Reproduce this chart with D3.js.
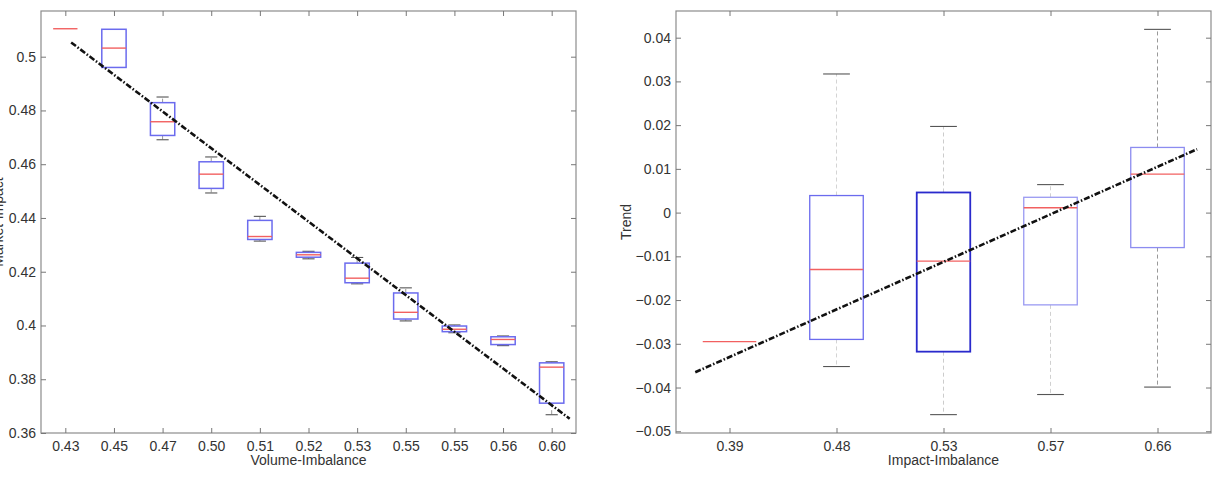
<!DOCTYPE html>
<html>
<head>
<meta charset="utf-8">
<script src="https://cdn.jsdelivr.net/npm/d3@7"></script>
<style>
  body { margin: 0; background: #fff; }
  svg { display: block; font-family: "Liberation Sans", Arial, sans-serif; }
  .tick text { fill: #333; font-size: 14px; }
</style>
</head>
<body>
<svg id="chart" width="1212" height="478"></svg>
<script>
// ---- left panel: volume imbalance ----
var volCats = ["0.43", "0.45", "0.47", "0.50", "0.51", "0.52", "0.53", "0.55", "0.55", "0.56", "0.60"];
var volLo  = [0.5104, 0.4960, 0.4691, 0.4493, 0.4314, 0.4248, 0.4155, 0.4017, 0.3973, 0.3925, 0.3668];
var volQ1  = [0.5104, 0.4960, 0.4707, 0.4510, 0.4320, 0.4254, 0.4159, 0.4024, 0.3977, 0.3929, 0.3711];
var volMed = [0.5104, 0.5032, 0.4758, 0.4563, 0.4331, 0.4263, 0.4176, 0.4049, 0.3986, 0.3948, 0.3845];
var volQ3  = [0.5104, 0.5102, 0.4829, 0.4609, 0.4391, 0.4272, 0.4232, 0.4121, 0.3998, 0.3958, 0.3861];
var volHi  = [0.5104, 0.5102, 0.4850, 0.4627, 0.4406, 0.4276, 0.4253, 0.4140, 0.4002, 0.3961, 0.3865];
var volYTicks = [0.36, 0.38, 0.4, 0.42, 0.44, 0.46, 0.48, 0.5];
var volTrendX = [1.12, 11.37];
var volTrendY = [0.5053, 0.3653];

// ---- right panel: impact imbalance ----
var impCats = ["0.39", "0.48", "0.53", "0.57", "0.66"];
var impLo  = [-0.0295, -0.0352, -0.0462, -0.0416, -0.0399];
var impQ1  = [-0.0295, -0.0290, -0.0318, -0.0211, -0.0080];
var impMed = [-0.0295, -0.0130, -0.0111,  0.0011,  0.0088];
var impQ3  = [-0.0295,  0.0039,  0.0046,  0.0035,  0.0149];
var impHi  = [-0.0295,  0.0317,  0.0197,  0.0064,  0.0419];
var impYTicks = [-0.05, -0.04, -0.03, -0.02, -0.01, 0, 0.01, 0.02, 0.03, 0.04];
var impTrendX = [0.68, 5.37];
var impTrendY = [-0.0365, 0.0145];

var svg = d3.select("#chart");

function drawPanel(p) {
  var g = svg.append("g");
  var n = p.cats.length;
  var x = d3.scaleLinear().domain([0.5, n + 0.5]).range([p.left, p.right]);
  var y = d3.scaleLinear().domain(p.yDomain).range([p.bottom, p.top]);
  var idx = d3.range(n);

  // frame
  g.append("rect")
    .attr("x", p.left).attr("y", p.top)
    .attr("width", p.right - p.left).attr("height", p.bottom - p.top)
    .attr("fill", "none").attr("stroke", "#8c8c8c").attr("stroke-width", 1.2);

  var ax = function(a) {
    a.select(".domain").remove();
    a.selectAll(".tick line").attr("stroke", "#777");
  };
  g.append("g").attr("transform", "translate(0," + p.bottom + ")")
    .call(d3.axisBottom(x).tickValues(idx.map(function(i) { return i + 1; }))
      .tickFormat(function(d) { return p.cats[d - 1]; })
      .tickSize(-5).tickPadding(8))
    .call(ax);
  g.append("g").attr("transform", "translate(0," + p.top + ")")
    .call(d3.axisTop(x).tickValues(idx.map(function(i) { return i + 1; }))
      .tickFormat("").tickSize(-5))
    .call(ax);
  g.append("g").attr("transform", "translate(" + p.left + ",0)")
    .call(d3.axisLeft(y).tickValues(p.yTicks).tickFormat(d3.format("~g"))
      .tickSize(-5).tickPadding(5))
    .call(ax);
  g.append("g").attr("transform", "translate(" + p.right + ",0)")
    .call(d3.axisRight(y).tickValues(p.yTicks).tickFormat("").tickSize(-5))
    .call(ax);
  g.selectAll(".tick text").attr("font-size", 14);

  var bw = 0.25, cw = 0.125;
  var box = g.append("g").selectAll("g").data(idx).enter().append("g");

  // whiskers
  box.filter(function(i) { return p.hi[i] > p.q3[i]; }).append("line")
    .attr("x1", function(i) { return x(i + 1); }).attr("x2", function(i) { return x(i + 1); })
    .attr("y1", function(i) { return y(p.q3[i]); }).attr("y2", function(i) { return y(p.hi[i]); })
    .attr("stroke", function(i) { return p.whiskColor[i]; }).attr("stroke-dasharray", "4,3");
  box.filter(function(i) { return p.lo[i] < p.q1[i]; }).append("line")
    .attr("x1", function(i) { return x(i + 1); }).attr("x2", function(i) { return x(i + 1); })
    .attr("y1", function(i) { return y(p.q1[i]); }).attr("y2", function(i) { return y(p.lo[i]); })
    .attr("stroke", function(i) { return p.whiskColor[i]; }).attr("stroke-dasharray", "4,3");
  // caps
  box.filter(function(i) { return p.hi[i] > p.q3[i]; }).append("line")
    .attr("x1", function(i) { return x(i + 1 - cw); }).attr("x2", function(i) { return x(i + 1 + cw); })
    .attr("y1", function(i) { return y(p.hi[i]); }).attr("y2", function(i) { return y(p.hi[i]); })
    .attr("stroke", "#555").attr("stroke-width", 1.1);
  box.filter(function(i) { return p.lo[i] < p.q1[i]; }).append("line")
    .attr("x1", function(i) { return x(i + 1 - cw); }).attr("x2", function(i) { return x(i + 1 + cw); })
    .attr("y1", function(i) { return y(p.lo[i]); }).attr("y2", function(i) { return y(p.lo[i]); })
    .attr("stroke", "#555").attr("stroke-width", 1.1);
  // boxes
  box.filter(function(i) { return p.q3[i] > p.q1[i]; }).append("rect")
    .attr("x", function(i) { return x(i + 1 - bw); })
    .attr("width", function(i) { return x(i + 1 + bw) - x(i + 1 - bw); })
    .attr("y", function(i) { return y(p.q3[i]); })
    .attr("height", function(i) { return y(p.q1[i]) - y(p.q3[i]); })
    .attr("fill", "none")
    .attr("stroke", function(i) { return p.boxColor[i]; })
    .attr("stroke-width", function(i) { return p.boxWidth[i]; });
  // medians
  box.append("line")
    .attr("x1", function(i) { return x(i + 1 - bw); }).attr("x2", function(i) { return x(i + 1 + bw); })
    .attr("y1", function(i) { return y(p.med[i]); }).attr("y2", function(i) { return y(p.med[i]); })
    .attr("stroke", "#f26060").attr("stroke-width", 1.4);

  // fitted trend
  g.append("path")
    .datum(d3.zip(p.trendX, p.trendY))
    .attr("d", d3.line().x(function(d) { return x(d[0]); }).y(function(d) { return y(d[1]); }))
    .attr("fill", "none").attr("stroke", "#111").attr("stroke-width", 2.6)
    .attr("stroke-dasharray", "6,2,1.5,2");

  // axis titles
  g.append("text")
    .attr("x", (p.left + p.right) / 2).attr("y", 465)
    .attr("text-anchor", "middle").attr("font-size", 14).attr("fill", "#333")
    .text(p.xTitle);
  g.append("text")
    .attr("transform", "translate(" + p.yTitleX + "," + (p.top + p.bottom) / 2 + ") rotate(-90)")
    .attr("text-anchor", "middle").attr("font-size", 14).attr("fill", "#333")
    .text(p.yTitle);
}

drawPanel({
  cats: volCats, lo: volLo, q1: volQ1, med: volMed, q3: volQ3, hi: volHi,
  yTicks: volYTicks, yDomain: [0.36, 0.517], trendX: volTrendX, trendY: volTrendY,
  left: 41, right: 576, top: 11, bottom: 433,
  boxColor: volCats.map(function() { return "#6b6bee"; }),
  boxWidth: volCats.map(function() { return 1.5; }),
  whiskColor: volCats.map(function() { return "#999"; }),
  xTitle: "Volume-Imbalance", yTitle: "Market-Impact", yTitleX: 3
});

drawPanel({
  cats: impCats, lo: impLo, q1: impQ1, med: impMed, q3: impQ3, hi: impHi,
  yTicks: impYTicks, yDomain: [-0.0504, 0.0461], trendX: impTrendX, trendY: impTrendY,
  left: 676, right: 1211, top: 11, bottom: 433,
  boxColor: ["#6b6bee", "#6b6bee", "#2a2acc", "#9a9af2", "#8c8cf0"],
  boxWidth: [1.3, 1.3, 1.8, 1.3, 1.3],
  whiskColor: ["#ccc", "#d4d4d4", "#ccc", "#d0d0d0", "#999"],
  xTitle: "Impact-Imbalance", yTitle: "Trend", yTitleX: 631
});
</script>
</body>
</html>
